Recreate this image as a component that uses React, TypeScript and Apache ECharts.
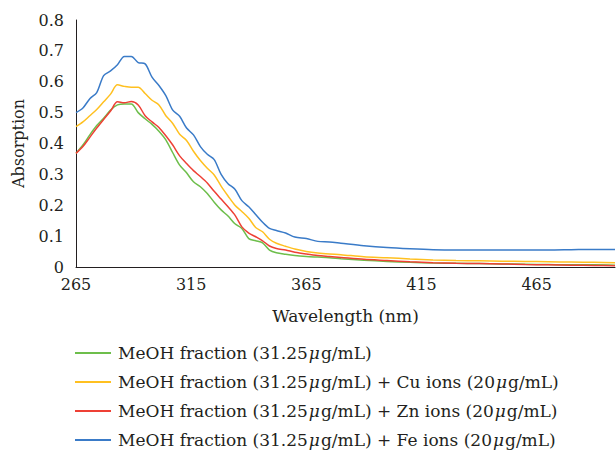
import React, { useEffect, useRef } from "react";
import * as echarts from "echarts";

const wavelengths = [265, 268, 271, 274, 277, 280, 283, 286, 289, 292, 295, 298, 301, 304, 307, 310, 313, 316, 319, 322, 325, 328, 331, 334, 337, 340, 343, 346, 349, 352, 356, 360, 365, 370, 375, 380, 390, 400, 410, 420, 430, 440, 450, 460, 470, 480, 490, 499];

const meoh = [0.368, 0.395, 0.428, 0.458, 0.482, 0.508, 0.525, 0.528, 0.528, 0.5, 0.48, 0.462, 0.44, 0.412, 0.37, 0.33, 0.305, 0.276, 0.26, 0.238, 0.21, 0.185, 0.165, 0.14, 0.125, 0.092, 0.085, 0.078, 0.055, 0.046, 0.041, 0.037, 0.034, 0.032, 0.03, 0.027, 0.022, 0.018, 0.015, 0.013, 0.012, 0.011, 0.01, 0.009, 0.008, 0.007, 0.007, 0.006];
const meohCu = [0.455, 0.47, 0.49, 0.51, 0.535, 0.56, 0.59, 0.585, 0.582, 0.582, 0.562, 0.54, 0.525, 0.49, 0.465, 0.43, 0.41, 0.375, 0.345, 0.32, 0.298, 0.262, 0.23, 0.2, 0.18, 0.158, 0.128, 0.114, 0.09, 0.077, 0.067, 0.058, 0.05, 0.045, 0.042, 0.04, 0.033, 0.03, 0.026, 0.023, 0.021, 0.02, 0.019, 0.018, 0.017, 0.016, 0.015, 0.014];
const meohZn = [0.368, 0.39, 0.42, 0.45, 0.478, 0.505, 0.535, 0.532, 0.536, 0.525, 0.49, 0.47, 0.452, 0.425, 0.395, 0.36, 0.335, 0.312, 0.293, 0.272, 0.245, 0.22, 0.195, 0.168, 0.13, 0.11, 0.098, 0.085, 0.068, 0.06, 0.055, 0.048, 0.042, 0.037, 0.034, 0.031, 0.025, 0.021, 0.017, 0.014, 0.012, 0.011, 0.01, 0.008, 0.007, 0.006, 0.005, 0.004];
const meohFe = [0.5, 0.515, 0.545, 0.565, 0.62, 0.635, 0.655, 0.682, 0.682, 0.662, 0.658, 0.615, 0.588, 0.555, 0.508, 0.488, 0.45, 0.428, 0.39, 0.365, 0.348, 0.3, 0.27, 0.252, 0.215, 0.195, 0.17, 0.145, 0.125, 0.118, 0.11, 0.097, 0.092, 0.083, 0.081, 0.077, 0.069, 0.063, 0.059, 0.056, 0.055, 0.055, 0.055, 0.055, 0.055, 0.056, 0.057, 0.057];

const seriesNames = [
  "MeOH fraction (31.25μg/mL)",
  "MeOH fraction (31.25μg/mL) + Cu ions (20μg/mL)",
  "MeOH fraction (31.25μg/mL) + Zn ions (20μg/mL)",
  "MeOH fraction (31.25μg/mL) + Fe ions (20μg/mL)",
];
const seriesValues = [meoh, meohCu, meohZn, meohFe];
const seriesColors = ["#6DBE4B", "#FFC020", "#EE4035", "#3A7BC8"];

const X_START = 265;
const X_END = 499;
const FONT = "'DejaVu Serif', 'Liberation Serif', serif";
const TEXT_COLOR = "#231f20";

export default function App() {
  const ref = useRef<HTMLDivElement>(null);
  useEffect(() => {
    if (!ref.current) return;
    const chart = echarts.init(ref.current, undefined, { renderer: "svg" });
    chart.setOption({
      animation: false,
      backgroundColor: "#ffffff",
      textStyle: { fontFamily: FONT },
      grid: { left: 76, top: 20, right: 1, bottom: 188, containLabel: false },
      xAxis: {
        type: "value",
        min: 0,
        max: X_END - X_START,
        interval: 50,
        name: "Wavelength (nm)",
        nameLocation: "middle",
        nameGap: 40,
        nameTextStyle: { fontFamily: FONT, fontSize: 17, color: TEXT_COLOR },
        axisLine: { show: true, lineStyle: { color: "#231f20", width: 1 } },
        axisTick: { show: false },
        splitLine: { show: false },
        axisLabel: {
          fontFamily: FONT,
          fontSize: 16,
          color: TEXT_COLOR,
          margin: 9,
          showMaxLabel: false,
          formatter: (v: number) => String(v + X_START),
        },
      },
      yAxis: {
        type: "value",
        min: 0,
        max: 0.8,
        interval: 0.1,
        name: "Absorption",
        nameLocation: "middle",
        nameGap: 50,
        nameTextStyle: { fontFamily: FONT, fontSize: 16, color: TEXT_COLOR },
        axisLine: { show: true, lineStyle: { color: "#231f20", width: 1 } },
        axisTick: { show: false },
        splitLine: { show: false },
        axisLabel: {
          fontFamily: FONT,
          fontSize: 16,
          color: TEXT_COLOR,
          margin: 12,
          formatter: (v: number) => (v === 0 ? "0" : v.toFixed(1)),
        },
      },
      legend: {
        orient: "vertical",
        left: 75,
        top: 344,
        padding: 0,
        itemWidth: 36,
        itemHeight: 14,
        itemGap: 11,
        data: seriesNames.map((n, i) => ({
          name: n,
          icon: "path://M0,6 L36,6 L36,8 L0,8 Z",
          itemStyle: { color: seriesColors[i] },
        })),
        formatter: (name: string) => name.replace(/μ/g, "{i|μ}"),
        textStyle: {
          fontFamily: FONT,
          fontSize: 17,
          lineHeight: 18,
          color: TEXT_COLOR,
          padding: [0, 0, 0, 2],
          rich: {
            i: { fontFamily: FONT, fontSize: 17, lineHeight: 18, fontStyle: "italic", color: TEXT_COLOR, padding: [0, 1, 0, 1] },
          },
        },
      },
      series: seriesNames.map((name, i) => ({
        name,
        type: "line",
        showSymbol: false,
        symbol: "none",
        smooth: 0.3,
        lineStyle: { color: seriesColors[i], width: 1.5 },
        itemStyle: { color: seriesColors[i] },
        data: wavelengths.map((w, j) => [w - X_START, seriesValues[i][j]]),
        z: i,
      })),
    });
    return () => chart.dispose();
  }, []);
  return <div ref={ref} style={{ width: 616, height: 455, position: "absolute", left: 0, top: 0 }} />;
}
